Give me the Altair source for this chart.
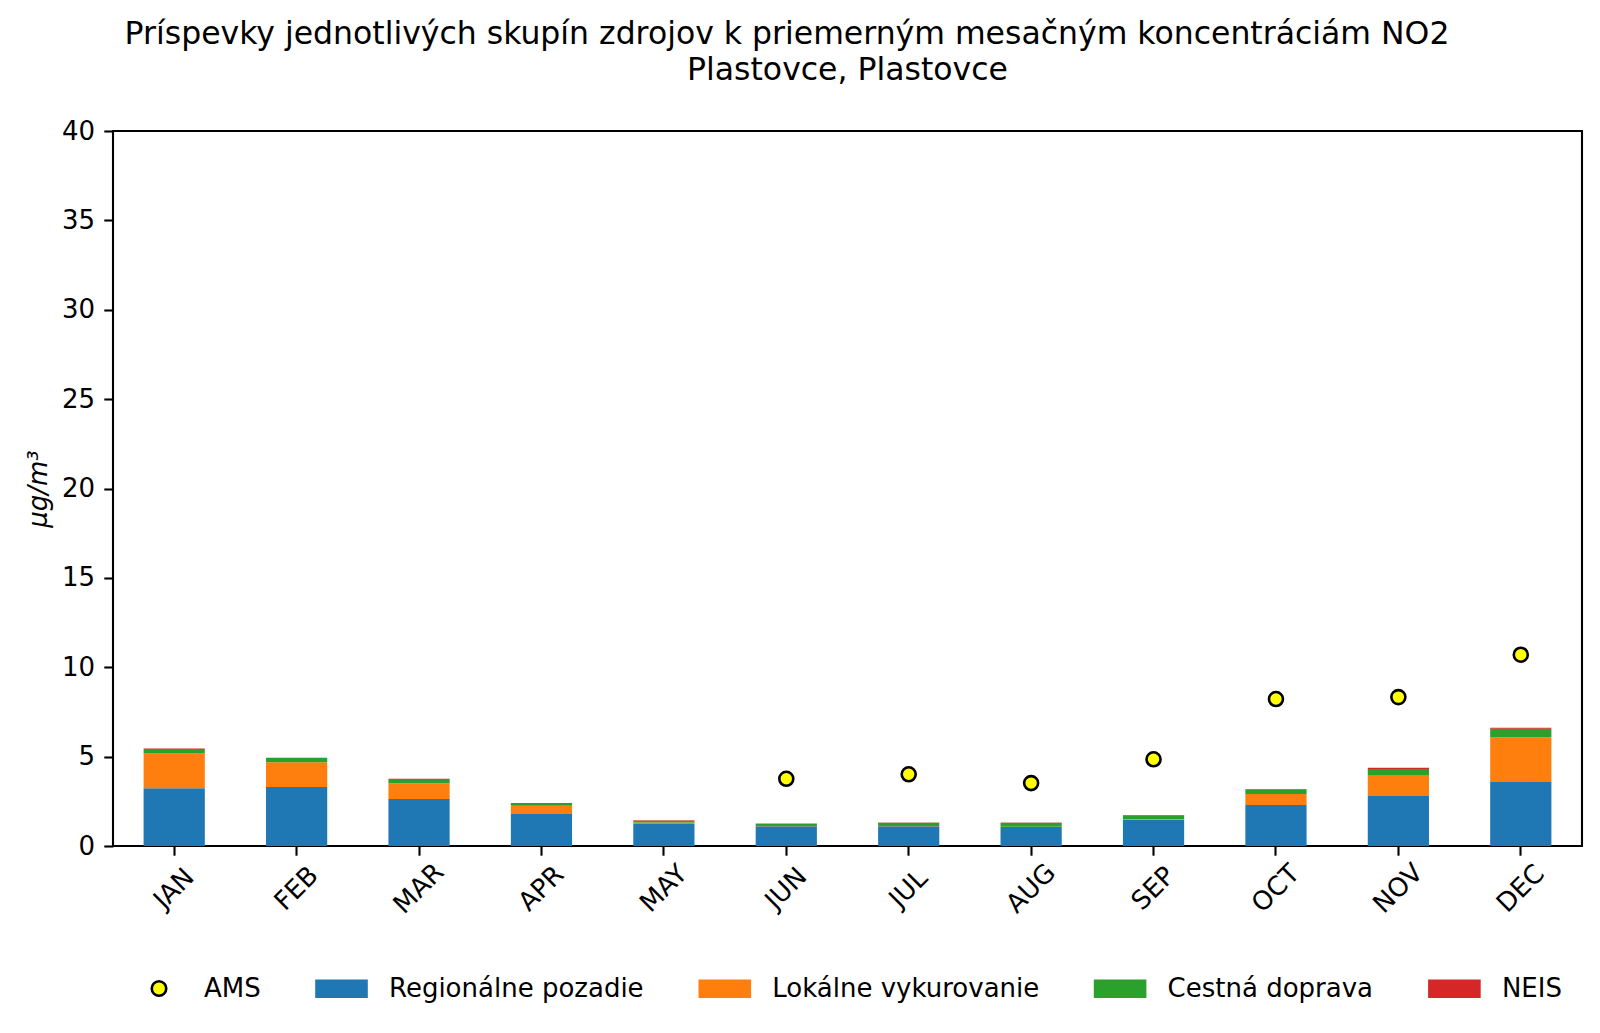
import altair as alt
import pandas as pd

months = ["JAN", "FEB", "MAR", "APR", "MAY", "JUN", "JUL", "AUG", "SEP", "OCT", "NOV", "DEC"]
regional = [3.23, 3.30, 2.63, 1.79, 1.23, 1.10, 1.10, 1.06, 1.47, 2.29, 2.80, 3.58]
heating = [1.95, 1.38, 0.88, 0.46, 0.08, 0.02, 0.02, 0.02, 0.03, 0.62, 1.17, 2.50]
traffic = [0.24, 0.24, 0.24, 0.15, 0.10, 0.13, 0.18, 0.22, 0.22, 0.22, 0.34, 0.48]
neis = [0.04, 0.02, 0.01, 0.01, 0.03, 0.01, 0.01, 0.01, 0.01, 0.04, 0.07, 0.06]
ams = [None, None, None, None, None, 3.76, 4.01, 3.52, 4.85, 8.22, 8.33, 10.70]

sources = ["Regionálne pozadie", "Lokálne vykurovanie", "Cestná doprava", "NEIS"]
source_colors = ["#1f77b4", "#ff7f0e", "#2ca02c", "#d62728"]
ams_name = "AMS"
ams_color = "#ffff00"

title1 = "Príspevky jednotlivých skupín zdrojov k priemerným mesačným koncentráciám NO2"
title2 = "Plastovce, Plastovce"

FONT = "DejaVu Sans"
W, H = 1469, 715

rows = []
for k, (s, vals) in enumerate(zip(sources, [regional, heating, traffic, neis])):
    for i, m in enumerate(months):
        rows.append({"month": m, "source": s, "value": vals[i], "order": k})
bars_df = pd.DataFrame(rows)
ams_df = pd.DataFrame({"month": months, "value": ams, "source": ams_name}).dropna()

RECT = "M-1,-0.35H1V0.35H-1Z"
bar_legend = alt.Legend(
    orient="none", legendX=202, legendY=831, direction="horizontal", columns=4,
    title=None, symbolType=RECT, symbolSize=2767, symbolStrokeWidth=0, symbolOpacity=1,
    labelFont=FONT, labelFontSize=26, labelColor="black", labelOffset=21,
    columnPadding=54.3, padding=0, labelLimit=1000,
)
ams_legend = alt.Legend(
    orient="none", legendX=33, legendY=844.5, direction="horizontal",
    title=None, symbolType="circle", symbolSize=210, symbolFillColor=ams_color,
    symbolStrokeWidth=2.6, symbolOpacity=1,
    labelFont=FONT, labelFontSize=26, labelColor="black", labelOffset=32,
    padding=0, labelLimit=1000,
)

x = alt.X(
    "month:N", sort=months,
    scale=alt.Scale(domain=months, paddingInner=0.5, paddingOuter=0.25),
    axis=alt.Axis(title=None, labelAngle=-45, labelAlign="center", labelBaseline="middle",
                  labelPadding=33, tickSize=9.2, tickWidth=2.1, tickColor="black",
                  domain=False, grid=False, labelFont=FONT, labelFontSize=26, labelColor="black"),
)
y_axis = alt.Axis(
    values=list(range(0, 41, 5)), domain=False, grid=False, tickSize=9.2, tickWidth=2.1,
    tickColor="black", labelPadding=9.2, labelFont=FONT, labelFontSize=26, labelColor="black",
    title="μg/m³", titleFont=FONT, titleFontSize=26, titleFontStyle="italic",
    titleFontWeight="normal", titleColor="black", titleX=-75, titleY=H / 2,
    titleAngle=270, titleAlign="center", titleBaseline="middle",
)
y = alt.Y("value:Q", stack="zero", scale=alt.Scale(domain=[0, 40], nice=False), axis=y_axis)

bars = alt.Chart(bars_df).mark_bar().encode(
    x=x, y=y,
    color=alt.Color("source:N", scale=alt.Scale(domain=sources, range=source_colors), legend=bar_legend),
    order=alt.Order("order:Q", sort="ascending"),
)
points = alt.Chart(ams_df).mark_point(
    filled=True, size=196, fill=ams_color, strokeWidth=2.6, opacity=1, shape="circle"
).encode(
    x=x,
    y=alt.Y("value:Q", scale=alt.Scale(domain=[0, 40], nice=False), axis=y_axis),
    stroke=alt.Stroke("source:N", scale=alt.Scale(domain=[ams_name], range=["black"]), legend=ams_legend),
)
t1 = alt.Chart(pd.DataFrame({"t": [title1]})).mark_text(
    font=FONT, fontSize=31.5, align="center", baseline="alphabetic", color="black"
).encode(text="t:N", x=alt.value(674), y=alt.value(-86.6))
t2 = alt.Chart(pd.DataFrame({"t": [title2]})).mark_text(
    font=FONT, fontSize=31.5, align="center", baseline="alphabetic", color="black"
).encode(text="t:N", x=alt.value(W / 2), y=alt.value(-51))

chart = alt.layer(bars, points, t1, t2).properties(
    width=W, height=H,
    autosize=alt.AutoSizeParams(type="none"),
    padding={"left": 105, "top": 123, "right": 10, "bottom": 179},
    background="white",
).configure_view(stroke="black", strokeWidth=2.1)

chart.save("out.html", embed_options={"renderer": "svg", "actions": False})
